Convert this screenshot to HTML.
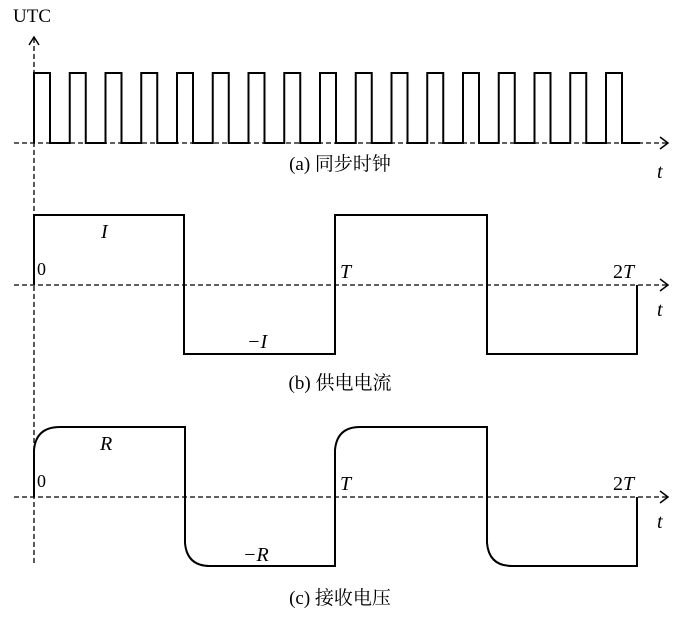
<!DOCTYPE html>
<html><head><meta charset="utf-8"><style>
body{margin:0;background:#fff}
svg text{font-family:"Liberation Serif","Noto Serif CJK SC",serif;fill:#000}
</style></head><body>
<svg width="700" height="614" viewBox="0 0 700 614" xmlns="http://www.w3.org/2000/svg">
<g stroke="#000" stroke-width="1.3" stroke-dasharray="5,3" fill="none">
<line x1="34" y1="38" x2="34" y2="565"/>
<line x1="14" y1="143" x2="668" y2="143"/>
<line x1="14" y1="285" x2="668" y2="285"/>
<line x1="14" y1="497" x2="668" y2="497"/>
</g>
<g stroke="#000" stroke-width="1.5" fill="none">
<polyline points="29,45 34,37 39,45"/>
<polyline points="660,137 668,143 660,149"/>
<polyline points="660,279 668,285 660,291"/>
<polyline points="660,491 668,497 660,503"/>
</g>
<g stroke="#000" stroke-width="2" fill="none">
<path id="clk" d=""/>
<polyline points="34,285 34,215 184,215 184,354 335,354 335,215 487,215 487,354 637,354 637,285"/>
<path d="M34,497 L34,450 Q36,427 60,427 L185,427 L185,543 Q187,566 210,566 L335,566 L335,450 Q337,427 360,427 L487,427 L487,543 Q489,566 512,566 L637,566 L637,497"/>
</g>
<script>
var d="M34,143";for(var i=0;i<17;i++){var x=34+i*35.75;d+=" L"+x+",143 L"+x+",73 L"+(x+16)+",73 L"+(x+16)+",143";}d+=" L640,143";document.getElementById('clk').setAttribute('d',d);
</script>
<text x="13" y="22" font-size="19">UTC</text>
<text x="657" y="178" font-size="20" font-style="italic">t</text>
<text x="340" y="170" font-size="19" text-anchor="middle">(a) 同步时钟</text>
<text x="37" y="275" font-size="18">0</text>
<text x="101" y="238" font-size="20" font-style="italic">I</text>
<text x="247" y="348" font-size="20" font-style="italic">−I</text>
<text x="340" y="278" font-size="20" font-style="italic">T</text>
<text x="613" y="278" font-size="20">2<tspan font-style="italic">T</tspan></text>
<text x="657" y="316" font-size="20" font-style="italic">t</text>
<text x="340" y="389" font-size="19" text-anchor="middle">(b) 供电电流</text>
<text x="37" y="487" font-size="18">0</text>
<text x="100" y="450" font-size="20" font-style="italic">R</text>
<text x="243" y="561" font-size="20" font-style="italic">−R</text>
<text x="340" y="490" font-size="20" font-style="italic">T</text>
<text x="613" y="490" font-size="20">2<tspan font-style="italic">T</tspan></text>
<text x="657" y="528" font-size="20" font-style="italic">t</text>
<text x="340" y="604" font-size="19" text-anchor="middle">(c) 接收电压</text>
</svg>
</body></html>
